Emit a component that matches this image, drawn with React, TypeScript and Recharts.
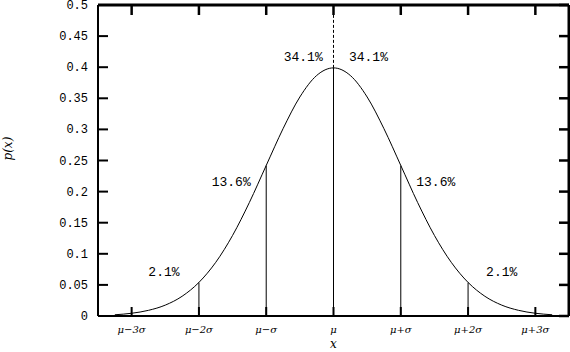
import {
  Line,
  LineChart,
  ReferenceDot,
  ReferenceLine,
  XAxis,
  YAxis,
} from 'recharts'

// normal density, every quarter sigma
const xValues = [
  -3.25, -3, -2.75, -2.5, -2.25, -2, -1.75, -1.5, -1.25, -1, -0.75, -0.5, -0.25, 0,
  0.25, 0.5, 0.75, 1, 1.25, 1.5, 1.75, 2, 2.25, 2.5, 2.75, 3, 3.25,
]
const densityValues = [
  0.002, 0.0044, 0.0091, 0.0175, 0.0317, 0.054, 0.0863, 0.1295, 0.1826, 0.242, 0.3011,
  0.3521, 0.3867, 0.3989, 0.3867, 0.3521, 0.3011, 0.242, 0.1826, 0.1295, 0.0863, 0.054,
  0.0317, 0.0175, 0.0091, 0.0044, 0.002,
]

const xTicks = [-3, -2, -1, 0, 1, 2, 3]
const xTickLabels = ['μ−3σ', 'μ−2σ', 'μ−σ', 'μ', 'μ+σ', 'μ+2σ', 'μ+3σ']
const yTicks = [0, 0.05, 0.1, 0.15, 0.2, 0.25, 0.3, 0.35, 0.4, 0.45, 0.5]
const xDomain = [-3.5, 3.5]
const yDomain = [0, 0.5]

const dividerX = [-2, -1, 0, 1, 2]
const dividerHeight = [0.054, 0.242, 0.3989, 0.242, 0.054]

const shareLabels = ['2.1%', '13.6%', '34.1%', '34.1%', '13.6%', '2.1%']
const shareX = [-2.52, -1.52, -0.45, 0.52, 1.52, 2.5]
const shareY = [0.071, 0.217, 0.418, 0.418, 0.217, 0.071]

const data = xValues.map((x, i) => ({ x, p: densityValues[i] }))

const MONO = '"Liberation Mono", "DejaVu Sans Mono", monospace'
const SERIF = '"DejaVu Serif", "Liberation Serif", serif'

function BottomTick(props: any) {
  const { x, y, index } = props
  return (
    <g>
      <path d={`M${x},${y}V${y - 9}`} stroke="#000" strokeWidth={2} />
      <text
        x={x}
        y={y + 17}
        textAnchor="middle"
        fontFamily={SERIF}
        fontStyle="italic"
        fontSize={10}
        fill="#000"
      >
        {xTickLabels[index]}
      </text>
    </g>
  )
}

function LeftTick(props: any) {
  const { x, y, payload } = props
  return (
    <g>
      <path d={`M${x},${y}H${x + 10}`} stroke="#000" strokeWidth={2} />
      <text x={x - 10} y={y + 4} textAnchor="end" fontFamily={MONO} fontSize={12} fill="#000">
        {String(payload.value)}
      </text>
    </g>
  )
}

// short inward marks mirrored on the top and right edges of the frame
const topMark = (p: any) => {
  const top = Math.min(p.y1, p.y2)
  return <path d={`M${p.x1},${top}V${top + 10}`} stroke="#000" strokeWidth={2.5} fill="none" />
}
const rightMark = (p: any) => {
  const right = Math.max(p.x1, p.x2)
  return <path d={`M${right},${p.y1}H${right - 10}`} stroke="#000" strokeWidth={2.5} fill="none" />
}

export default function App() {
  return (
    <div style={{ position: 'absolute', left: 0, top: 0, background: '#fff' }}>
      <LineChart
        width={570}
        height={352}
        data={data}
        margin={{ top: 5, right: 1, left: 0, bottom: 0 }}
      >
        <XAxis
          dataKey="x"
          type="number"
          domain={xDomain}
          ticks={xTicks}
          height={36}
          tickSize={0}
          tickMargin={0}
          tickLine={false}
          tick={<BottomTick />}
          axisLine={{ stroke: '#000', strokeWidth: 2 }}
          interval={0}
          label={{
            value: 'x',
            position: 'insideBottom',
            offset: 4,
            fontFamily: SERIF,
            fontStyle: 'italic',
            fontSize: 12,
            fill: '#000',
          }}
        />
        <YAxis
          type="number"
          domain={yDomain}
          ticks={yTicks}
          width={98}
          tickSize={0}
          tickMargin={0}
          tickLine={false}
          tick={<LeftTick />}
          axisLine={{ stroke: '#000', strokeWidth: 2 }}
          interval={0}
          label={{
            value: 'p(x)',
            angle: -90,
            position: 'insideLeft',
            offset: 8,
            fontFamily: SERIF,
            fontStyle: 'italic',
            fontSize: 12,
            fill: '#000',
          }}
        />
        {/* top and right edges of the frame */}
        <ReferenceLine y={yDomain[1]} stroke="#000" strokeWidth={3} ifOverflow="visible" />
        <ReferenceLine x={xDomain[1]} stroke="#000" strokeWidth={3} ifOverflow="visible" />
        {xTicks.map((t) => (
          <ReferenceLine key={`top-${t}`} x={t} ifOverflow="visible" shape={topMark} />
        ))}
        {yTicks.map((t) => (
          <ReferenceLine key={`right-${t}`} y={t} ifOverflow="visible" shape={rightMark} />
        ))}
        {dividerX.map((x, i) => (
          <ReferenceLine
            key={`div-${x}`}
            segment={[
              { x, y: 0 },
              { x, y: dividerHeight[i] },
            ]}
            stroke="#000"
            strokeWidth={1}
          />
        ))}
        <ReferenceLine
          segment={[
            { x: 0, y: 0.3989 },
            { x: 0, y: 0.5 },
          ]}
          stroke="#000"
          strokeWidth={1}
          strokeDasharray="3 2"
        />
        <Line
          dataKey="p"
          type="monotone"
          stroke="#000"
          strokeWidth={1}
          dot={false}
          activeDot={false}
          isAnimationActive={false}
        />
        {shareLabels.map((text, i) => (
          <ReferenceDot
            key={`share-${i}`}
            x={shareX[i]}
            y={shareY[i]}
            r={0}
            fill="none"
            stroke="none"
            label={{
              value: text,
              position: 'center',
              fontFamily: MONO,
              fontSize: 13,
              fill: '#000',
            }}
          />
        ))}
      </LineChart>
    </div>
  )
}
